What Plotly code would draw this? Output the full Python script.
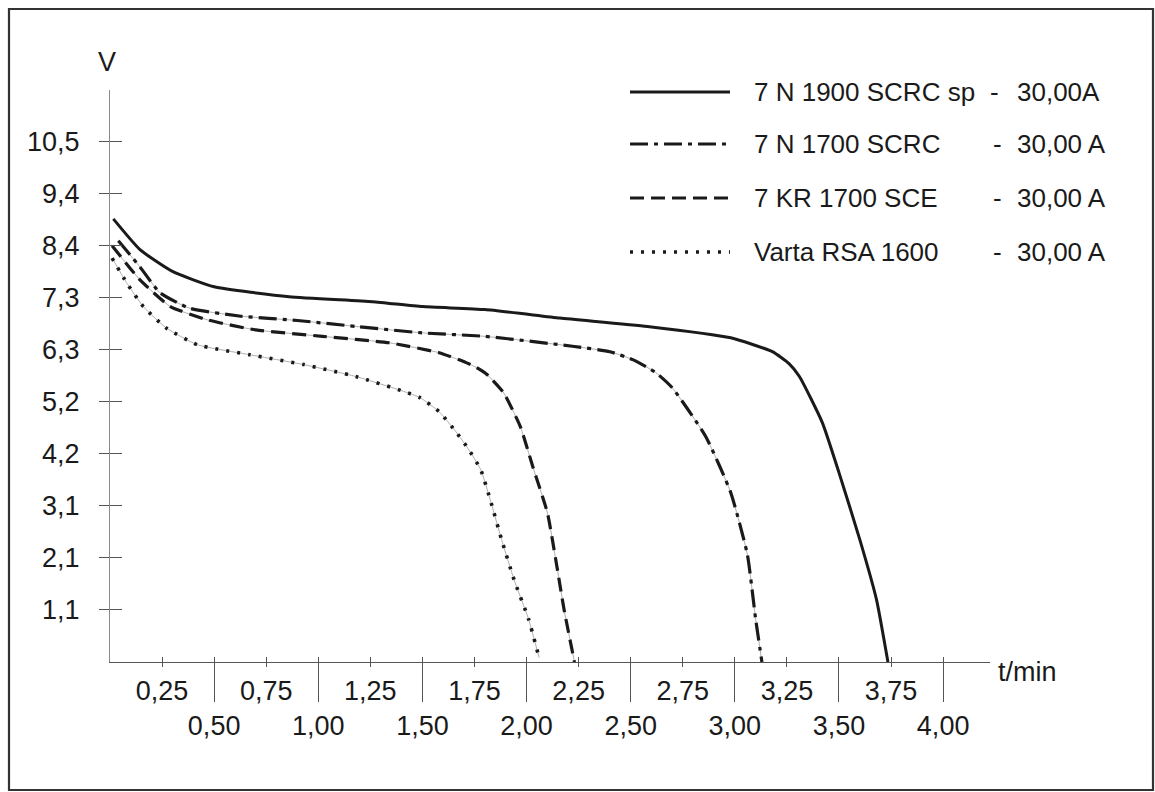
import plotly.graph_objects as go

# ---------------- data ----------------
series_names = ["7 N 1900 SCRC sp", "7 N 1700 SCRC", "7 KR 1700 SCE", "Varta RSA 1600"]
series_currents = ["30,00A", "30,00 A", "30,00 A", "30,00 A"]

solid_t = [0.016, 0.144, 0.30, 0.50, 0.86, 1.26, 1.50, 1.80, 2.16, 2.58, 2.98, 3.18, 3.26, 3.31, 3.42, 3.50, 3.60, 3.68, 3.735]
solid_v = [8.94, 8.32, 7.88, 7.57, 7.37, 7.27, 7.17, 7.11, 6.94, 6.77, 6.54, 6.26, 6.02, 5.76, 4.83, 3.82, 2.47, 1.26, 0.0]

dashdot_t = [0.04, 0.144, 0.24, 0.38, 0.62, 0.90, 1.18, 1.50, 1.80, 2.22, 2.40, 2.51, 2.62, 2.70, 2.86, 2.98, 3.06, 3.10, 3.13]
dashdot_v = [8.50, 7.97, 7.45, 7.14, 6.98, 6.89, 6.77, 6.64, 6.57, 6.37, 6.26, 6.10, 5.84, 5.53, 4.55, 3.42, 2.17, 0.86, 0.0]

dashed_t = [0.01, 0.144, 0.29, 0.47, 0.70, 1.02, 1.34, 1.58, 1.71, 1.76, 1.81, 1.89, 1.97, 2.03, 2.10, 2.14, 2.18, 2.23]
dashed_v = [8.40, 7.71, 7.17, 6.90, 6.70, 6.57, 6.44, 6.24, 6.04, 5.94, 5.80, 5.43, 4.75, 3.94, 3.01, 2.07, 1.06, 0.0]

dotted_t = [0.01, 0.08, 0.16, 0.27, 0.42, 0.67, 0.93, 1.18, 1.41, 1.49, 1.58, 1.66, 1.72, 1.78, 1.83, 1.88, 1.94, 2.01, 2.06]
dotted_v = [8.15, 7.65, 7.17, 6.74, 6.40, 6.20, 6.00, 5.76, 5.46, 5.33, 5.05, 4.65, 4.30, 3.88, 3.21, 2.47, 1.66, 0.86, 0.09]

y_tick_vals = [1.05, 2.10, 3.15, 4.20, 5.25, 6.30, 7.35, 8.40, 9.45, 10.50]
y_tick_text = ["1,1", "2,1", "3,1", "4,2", "5,2", "6,3", "7,3", "8,4", "9,4", "10,5"]

x_row1_vals = [0.25, 0.75, 1.25, 1.75, 2.25, 2.75, 3.25, 3.75]
x_row1_text = ["0,25", "0,75", "1,25", "1,75", "2,25", "2,75", "3,25", "3,75"]
x_row2_vals = [0.50, 1.00, 1.50, 2.00, 2.50, 3.00, 3.50, 4.00]
x_row2_text = ["0,50", "1,00", "1,50", "2,00", "2,50", "3,00", "3,50", "4,00"]

# ---------------- layout geometry ----------------
W, H = 1155, 792
ML, MR, MT, MB = 110, 165, 90, 130
PW, PH = W - ML - MR, H - MT - MB
X_RANGE = [0, 4.225]
Y_RANGE = [0, 11.54]

def px(xp):
    return (xp - ML) / PW

def py(yp):
    return (H - MB - yp) / PH

FONT = "Liberation Sans, Arial, sans-serif"
INK = "#1a1a1a"
AX = "#555555"

styles = [
    dict(dash="solid", width=3.0),
    dict(dash="18px,6px,4px,6px", width=3.2),
    dict(dash="14px,7px", width=3.2),
    dict(dash="3px,8px", width=3.6),
]
data = [(solid_t, solid_v), (dashdot_t, dashdot_v), (dashed_t, dashed_v), (dotted_t, dotted_v)]

fig = go.Figure()
# faint thin connecting lines under the broken-line series
for i, (t, v) in enumerate(data):
    if i > 0:
        fig.add_trace(go.Scatter(x=t, y=v, mode="lines", showlegend=False, hoverinfo="skip",
                                 line=dict(color="#9a9a9a", width=0.8, shape="spline", smoothing=0.5)))
for i, (t, v) in enumerate(data):
    fig.add_trace(go.Scatter(x=t, y=v, mode="lines", name=series_names[i], showlegend=False,
                             line=dict(color=INK, width=styles[i]["width"], dash=styles[i]["dash"],
                                       shape="spline", smoothing=0.5)))

fig.update_layout(
    width=W, height=H,
    margin=dict(l=ML, r=MR, t=MT, b=MB),
    paper_bgcolor="white", plot_bgcolor="white",
    font=dict(family=FONT, size=27, color=INK),
    showlegend=False,
    xaxis=dict(range=X_RANGE, tickmode="array", tickvals=x_row1_vals, ticktext=x_row1_text,
               ticks="outside", ticklen=4, tickwidth=1, tickcolor=AX,
               showline=True, linecolor=AX, linewidth=1.2, showgrid=False, zeroline=False,
               ticklabelstandoff=0, fixedrange=True),
    xaxis2=dict(range=X_RANGE, overlaying="x", anchor="y", side="bottom",
                tickmode="array", tickvals=x_row2_vals, ticktext=x_row2_text,
                ticks="outside", ticklen=39, tickwidth=1, tickcolor=AX,
                showline=False, showgrid=False, zeroline=False, ticklabelstandoff=1),
    xaxis3=dict(range=X_RANGE, overlaying="x", anchor="y", side="bottom",
                tickmode="array", tickvals=x_row1_vals + x_row2_vals,
                ticks="inside", ticklen=5, tickwidth=1, tickcolor=AX,
                showticklabels=False, showline=False, showgrid=False, zeroline=False),
    yaxis=dict(range=Y_RANGE, tickmode="array", tickvals=y_tick_vals, ticktext=y_tick_text,
               ticks="outside", ticklen=10, tickwidth=1, tickcolor=AX,
               showline=True, linecolor="#8a8a8a", linewidth=1, showgrid=False, zeroline=False,
               ticklabelstandoff=14, fixedrange=True),
    yaxis2=dict(range=Y_RANGE, overlaying="y", anchor="x", side="left",
                tickmode="array", tickvals=y_tick_vals,
                ticks="inside", ticklen=12, tickwidth=1, tickcolor=AX,
                showticklabels=False, showline=False, showgrid=False, zeroline=False),
)
# invisible traces so the overlay axes are drawn
fig.add_trace(go.Scatter(x=[None], y=[None], xaxis="x2", yaxis="y", showlegend=False, hoverinfo="skip"))
fig.add_trace(go.Scatter(x=[None], y=[None], xaxis="x3", yaxis="y", showlegend=False, hoverinfo="skip"))
fig.add_trace(go.Scatter(x=[None], y=[None], xaxis="x", yaxis="y2", showlegend=False, hoverinfo="skip"))

# outer frame
fig.add_shape(type="rect", xref="paper", yref="paper",
              x0=px(9), x1=px(1153), y0=py(790), y1=py(9),
              line=dict(color="#333333", width=2.2), fillcolor="rgba(0,0,0,0)", layer="below")

# axis titles
fig.add_annotation(xref="paper", yref="paper", x=px(107), y=py(62), text="V", showarrow=False,
                   xanchor="center", yanchor="middle", font=dict(size=27, color=INK))
fig.add_annotation(xref="paper", yref="paper", x=px(996), y=py(672), text="t/min", showarrow=False,
                   xanchor="left", yanchor="middle", font=dict(size=27, color=INK))

# custom legend (long line samples like the original)
legend_rows = [92, 144, 198, 252]
for i, yr in enumerate(legend_rows):
    fig.add_shape(type="line", xref="paper", yref="paper",
                  x0=px(630), x1=px(730), y0=py(yr), y1=py(yr),
                  line=dict(color=INK, width=styles[i]["width"], dash=styles[i]["dash"]))
    fig.add_annotation(xref="paper", yref="paper", x=px(752), y=py(yr), text=series_names[i],
                       showarrow=False, xanchor="left", yanchor="middle", font=dict(size=26, color=INK))
    fig.add_annotation(xref="paper", yref="paper", x=px(997 if i else 994), y=py(yr), text="-",
                       showarrow=False, xanchor="center", yanchor="middle", font=dict(size=26, color=INK))
    fig.add_annotation(xref="paper", yref="paper", x=px(1015), y=py(yr), text=series_currents[i],
                       showarrow=False, xanchor="left", yanchor="middle", font=dict(size=26, color=INK))

fig.write_html("out.html", config={"displayModeBar": False},
               post_script="document.body.style.margin='0';document.body.style.overflow='hidden';")
